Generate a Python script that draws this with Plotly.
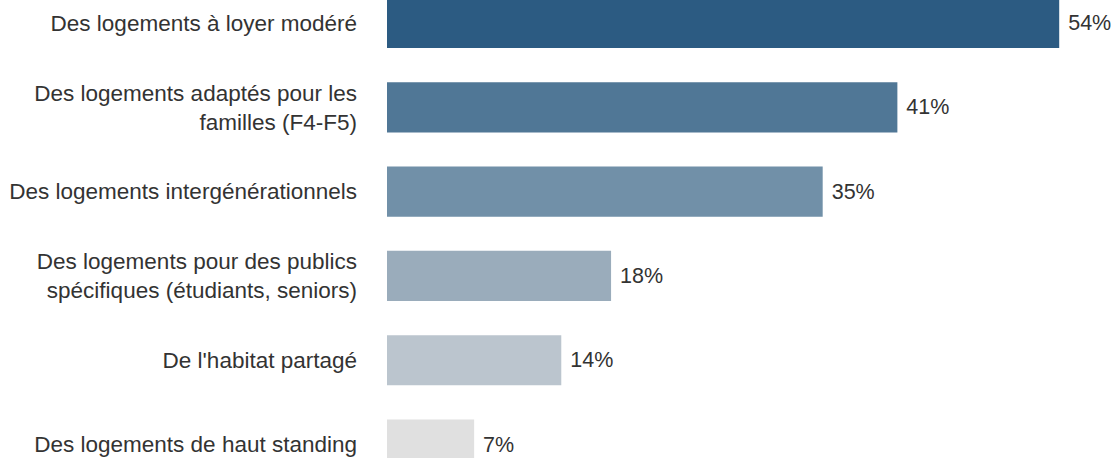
import plotly.graph_objects as go

categories = [
    "Des logements à loyer modéré",
    "Des logements adaptés pour les<br>familles (F4-F5)",
    "Des logements intergénérationnels",
    "Des logements pour des publics<br>spécifiques (étudiants, seniors)",
    "De l'habitat partagé",
    "Des logements de haut standing",
]
values = [54, 41, 35, 18, 14, 7]
colors = ["#2c5b82", "#507796", "#7190a8", "#9aacbb", "#bbc5ce", "#e0e0e0"]

FONT = "Liberation Sans, Arial, sans-serif"

fig = go.Figure(
    go.Bar(
        x=values,
        y=list(range(len(categories))),
        orientation="h",
        marker=dict(color=colors, line=dict(width=0)),
        width=0.595,
        text=[f"\u00a0{v}%" for v in values],
        textposition="outside",
        textfont=dict(family=FONT, size=21.5, color="#333333"),
        cliponaxis=False,
        hoverinfo="skip",
    )
)

fig.update_layout(
    width=1113,
    height=458,
    margin=dict(l=387, r=4, t=0, b=0),
    paper_bgcolor="white",
    plot_bgcolor="white",
    showlegend=False,
    font=dict(family=FONT, size=21.5, color="#333333"),
)
fig.update_xaxes(range=[0, 58], visible=False, showgrid=False, zeroline=False)
fig.update_yaxes(
    tickmode="array",
    tickvals=list(range(len(categories))),
    ticktext=categories,
    range=[5.16, -0.273],
    showgrid=False,
    zeroline=False,
    showline=False,
    ticks="",
    ticklabelstandoff=29,
    tickfont=dict(family=FONT, size=22.5, color="#333333"),
)

fig.write_html(
    "out.html",
    config={"displayModeBar": False, "staticPlot": True},
    post_script="document.body.style.margin='0';document.body.style.overflow='hidden';",
)
